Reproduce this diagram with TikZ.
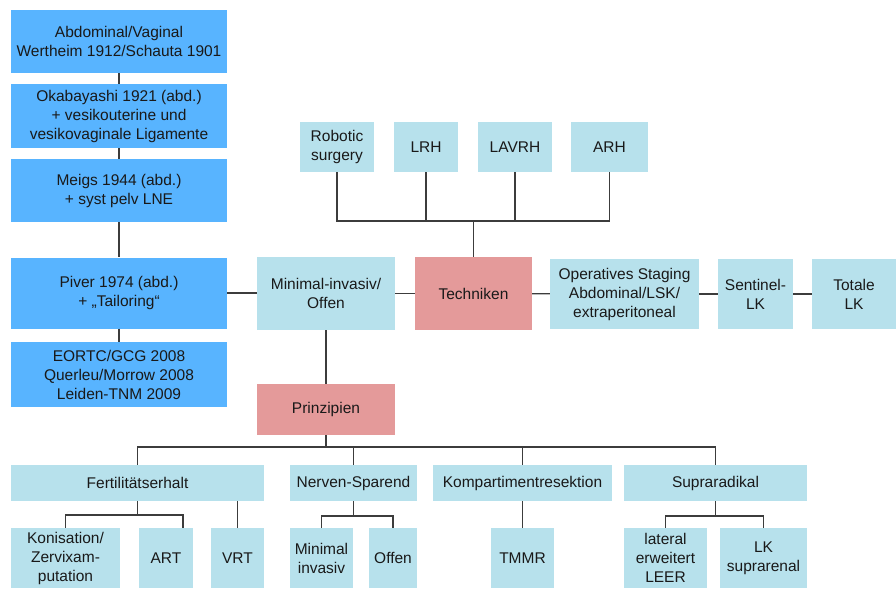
\documentclass[tikz,border=0pt]{standalone}
\usepackage{fontspec}
\setmainfont{Liberation Sans}
\definecolor{histblue}{HTML}{58B4FF}
\definecolor{techlight}{HTML}{B7E1EC}
\definecolor{corerose}{HTML}{E49A9A}
\definecolor{linegray}{HTML}{3C3C3C}
\tikzset{
  % kaesten
  bx/.style={rectangle,inner sep=0pt,align=center,text=black!90,
             font=\fontsize{15.5}{19}\selectfont},
  hist/.style={bx,fill=histblue,minimum width=216pt},
  tl/.style={bx,fill=techlight},
  core/.style={bx,fill=corerose},
  % linien
  ln/.style={draw=linegray,line width=1.4pt},
}

\begin{document}
\begin{tikzpicture}[x=1pt,y=-1pt]
\useasboundingbox (0,0) rectangle (896,590);
  % historie
  \node[hist,minimum height=63pt] (l1) at (119,41.5) {Abdominal/Vaginal\\Wertheim 1912/Schauta 1901};
  \node[hist,minimum height=64pt] (l2) at (119,116) {Okabayashi 1921 (abd.)\\+ vesikouterine und\\vesikovaginale Ligamente};
  \node[hist,minimum height=63pt] (l3) at (119,190.5) {Meigs 1944 (abd.)\\+ syst pelv LNE};
  \node[hist,minimum height=71pt] (l4) at (119,293) {Piver 1974 (abd.)\\+ „Tailoring“};
  \node[hist,minimum height=65pt] (l5) at (119,374.5) {EORTC/GCG 2008\\Querleu/Morrow 2008\\Leiden-TNM 2009};
  % techniken
  \node[tl,minimum width=138pt,minimum height=73pt] (mio) at (326,293.5) {Minimal-invasiv/\\Offen};
  \node[core,minimum width=117pt,minimum height=73pt] (tech) at (473.5,293.5) {Techniken};
  \node[tl,minimum width=149pt,minimum height=70pt] (stag) at (624.5,294) {Operatives Staging\\Abdominal/LSK/\\extraperitoneal};
  \node[tl,minimum width=75pt,minimum height=70pt] (senti) at (755.5,294) {Sentinel-\\LK};
  \node[tl,minimum width=84pt,minimum height=70pt] (total) at (854,294) {Totale\\LK};
  \node[tl,minimum width=74pt,minimum height=50pt] (rob) at (337,147) {Robotic\\surgery};
  \node[tl,minimum width=64pt,minimum height=50pt] (lrh) at (426,147) {LRH};
  \node[tl,minimum width=74pt,minimum height=50pt] (lavrh) at (515,147) {LAVRH};
  \node[tl,minimum width=77pt,minimum height=50pt] (arh) at (609.5,147) {ARH};
  % prinzipien
  \node[core,minimum width=138pt,minimum height=51pt] (prinz) at (326,409.5) {Prinzipien};
  \node[tl,minimum width=253pt,minimum height=36pt] (fert) at (137.5,483) {Fertilitätserhalt};
  \node[tl,minimum width=127pt,minimum height=36pt] (nerv) at (353.5,483) {Nerven-Sparend};
  \node[tl,minimum width=179pt,minimum height=36pt] (komp) at (522.5,483) {Kompartimentresektion};
  \node[tl,minimum width=183pt,minimum height=36pt] (supra) at (715.5,483) {Supraradikal};
  \node[tl,minimum width=109pt,minimum height=60pt] (kon) at (65.5,558) {Konisation/\\Zervixam-\\putation};
  \node[tl,minimum width=54pt,minimum height=60pt] (art) at (166,558) {ART};
  \node[tl,minimum width=53pt,minimum height=60pt] (vrt) at (237.5,558) {VRT};
  \node[tl,minimum width=63pt,minimum height=60pt] (mi) at (321.5,558) {Minimal\\invasiv};
  \node[tl,minimum width=48pt,minimum height=60pt] (off) at (393,558) {Offen};
  \node[tl,minimum width=63pt,minimum height=60pt] (tmmr) at (522.5,558) {TMMR};
  \node[tl,minimum width=83pt,minimum height=60pt] (leer) at (665.5,558) {lateral\\erweitert\\LEER};
  \node[tl,minimum width=87pt,minimum height=60pt] (lksup) at (763.5,558) {LK\\suprarenal};
  % verbindungen
  \coordinate (tbus) at (473.5,221);
  \coordinate (pbus) at (326,447);
  \coordinate (fbus) at (137.5,515);
  \coordinate (nbus) at (353.5,516);
  \coordinate (sbus) at (715.5,516);
  \draw[ln] (l1) -- (l2);
  \draw[ln] (l2) -- (l3);
  \draw[ln] (l3) -- (l4);
  \draw[ln] (l4) -- (l5);
  \draw[ln] (l4.east) -- (l4.east -| mio.west);
  \draw[ln] (mio) -- (tech);
  \draw[ln] (tech) -- (stag);
  \draw[ln] (stag) -- (senti);
  \draw[ln] (senti) -- (total);
  \draw[ln] (rob.south) |- (tbus) -| (arh.south);
  \draw[ln] (lrh.south) -- (lrh.south |- tbus);
  \draw[ln] (lavrh.south) -- (lavrh.south |- tbus);
  \draw[ln] (tbus) -- (tech.north);
  \draw[ln] (mio) -- (prinz);
  \draw[ln] (prinz.south) -- (pbus);
  \draw[ln] (fert.north) |- (pbus) -| (supra.north);
  \draw[ln] (nerv.north) -- (nerv.north |- pbus);
  \draw[ln] (komp.north) -- (komp.north |- pbus);
  \draw[ln] (fert.south) -- (fbus);
  \draw[ln] (kon.north) |- (fbus) -| ([xshift=17pt]art.north);
  \draw[ln] (vrt.north) -- (vrt.north |- fert.south);
  \draw[ln] (nerv.south) -- (nbus);
  \draw[ln] (mi.north) |- (nbus) -| (off.north);
  \draw[ln] (komp) -- (tmmr);
  \draw[ln] (supra.south) -- (sbus);
  \draw[ln] (leer.north) |- (sbus) -| (lksup.north);
\end{tikzpicture}
\end{document}
